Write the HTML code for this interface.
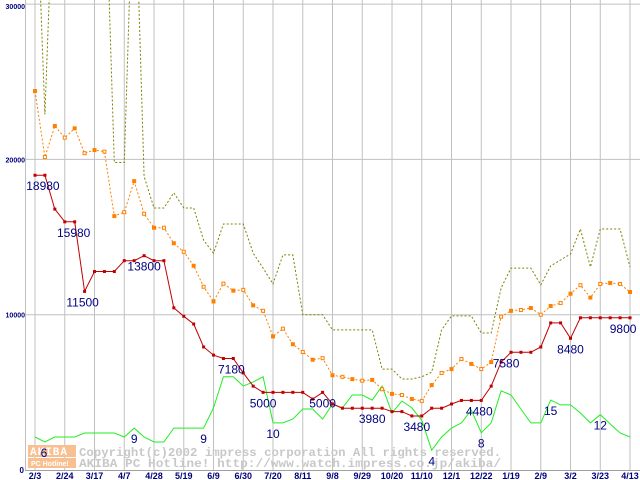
<!DOCTYPE html>
<html><head><meta charset="utf-8"><style>
html,body{margin:0;padding:0;background:#fff;}
svg{display:block;}
</style></head><body>
<svg id="chart" width="640" height="480" viewBox="0 0 640 480" xmlns="http://www.w3.org/2000/svg" font-family="Liberation Sans, sans-serif">
<defs><clipPath id="plotclip"><rect x="25" y="0" width="615" height="471"/></clipPath></defs>
<g id="grid"></g>
<g id="watermark">
 <rect x="28" y="445" width="48" height="12" fill="#f8c090"/>
 <text x="30" y="455" font-family="Liberation Mono, monospace" font-weight="bold" font-size="11" fill="#ffffff" letter-spacing="1">AKIBA</text>
 <rect x="28" y="458" width="48" height="10" fill="#f8c090"/>
 <text x="31" y="466" font-family="Liberation Sans, sans-serif" font-weight="bold" font-size="7" fill="#ffffff">PC Hotline!</text>
 <text x="79" y="456" font-family="Liberation Mono, monospace" font-weight="bold" font-size="12" fill="#c8c8c8" textLength="422" lengthAdjust="spacingAndGlyphs">Copyright(c)2002 impress corporation All rights reserved.</text>
 <text x="79" y="467" font-family="Liberation Mono, monospace" font-weight="bold" font-size="12" fill="#c8c8c8" textLength="422" lengthAdjust="spacingAndGlyphs">AKIBA PC Hotline!  http://www.watch.impress.co.jp/akiba/</text>
</g>
<g id="series" clip-path="url(#plotclip)"></g>
<g id="labels"></g>
<g id="axes"></g>
</svg>
<script>
const xLabels=["2/3","2/24","3/17","4/7","4/28","5/19","6/9","6/30","7/20","8/11","9/8","9/29","10/20","11/10","12/1","12/22","1/19","2/9","3/2","3/23","4/13"];
const yTicks=[0,10000,20000,30000];
const redPrice=[18980,18980,16800,15980,15980,11500,12780,12780,12780,13480,13480,13800,13480,13480,10440,9900,9400,7920,7400,7180,7180,6250,5400,5000,5000,5000,5000,5000,4570,5000,4250,3980,3980,3980,3980,3980,3760,3760,3480,3480,3980,3980,4250,4480,4480,4480,5400,6950,7580,7580,7580,7920,9470,9470,8480,9800,9800,9800,9800,9800,9800];
const orangePrice=[24400,20150,22150,21400,22000,20400,20600,20500,16350,16600,18600,16500,15600,15600,14600,14050,13150,11800,10850,12000,11550,11600,10600,10250,8600,9100,8100,7600,7100,7200,6100,6000,5850,5750,5800,5200,4900,4830,4570,4450,5470,6250,6500,7150,6830,6500,6950,9870,10250,10300,10430,10000,10560,10750,11350,11900,11100,11980,12040,11980,11460];
const olivePrice=[40000,22900,40000,40000,40000,40000,40000,40000,19800,19800,40000,18900,16870,16870,17850,16870,16870,14800,13960,15840,15840,15840,13960,13000,11980,13850,13850,10000,10000,10000,9020,9020,9020,9020,9020,6500,6500,5860,5860,6000,6300,9020,9920,9920,9920,8820,8820,11720,13000,13000,13000,11920,13140,13520,13910,15520,13070,15520,15520,15520,13070];
const greenCount=[2125,1800,2125,2125,2125,2380,2380,2380,2380,2125,2700,2125,1800,1800,2700,2700,2700,2700,4000,6000,6000,5400,5670,6000,3030,3030,3280,3930,3930,3280,4250,4000,4830,4830,4500,5400,3670,4440,4000,3200,1270,2125,2700,3030,3860,2400,3030,5100,4830,3930,3030,3030,4500,4190,4190,3670,3030,3560,2960,2380,2125];
const redLabelIdx=[0.8,3.9,4.8,11,19.8,23,29,34,38.5,44.8,47.5,54,59.3];
const redLabelText=["18980","15980","11500","13800","7180","5000","5000","3980","3480","4480","7580","8480","9800"];
const greenLabelIdx=[0.9,10,17,24,40,45,52,57];
const greenLabelText=["6","9","9","10","4","8","15","12"];

const NS="http://www.w3.org/2000/svg";
const X0=35,DX=9.917,Y0=470,KY=0.01553;
function xs(i){return X0+i*DX;}
function ys(v){return Y0-v*KY;}
function mk(tag,attrs,parent){const e=document.createElementNS(NS,tag);for(const k in attrs)e.setAttribute(k,attrs[k]);parent.appendChild(e);return e;}
const grid=document.getElementById('grid'),series=document.getElementById('series'),labels=document.getElementById('labels'),axes=document.getElementById('axes');

yTicks.forEach(t=>{
 if(t>0){const l=mk('line',{x1:25,x2:640,y1:ys(t),y2:ys(t),stroke:'#c0c0c0','stroke-width':1},grid);
 
 }
 const tx=mk('text',{x:t===0?24:25,y:ys(t)+(t===30000?5:3),'text-anchor':'end','font-size':t===0?8:7,'font-weight':'bold',fill:'#000080'},axes);
 tx.textContent=String(t);
 
 
});
xLabels.forEach((s,k)=>{
 const x=xs(k*3);
 const l=mk('line',{x1:x,x2:x,y1:0,y2:471,stroke:'#c0c0c0','stroke-width':1},grid);
 
 
 const tx=mk('text',{x:x,y:479,'text-anchor':'middle','font-size':9,'font-weight':'bold',fill:'#000080'},axes);
 tx.textContent=s;
 
 
});
const ax=mk('line',{x1:25.5,x2:25.5,y1:0,y2:471,stroke:'#c0c0c0'},axes);


const bx=mk('line',{x1:25,x2:640,y1:470.5,y2:470.5,stroke:'#a0a0a0'},axes);



function pts(arr){return arr.map((v,i)=>xs(i).toFixed(1)+','+ys(v).toFixed(1)).join(' ');}
const gl=mk('polyline',{points:pts(greenCount),fill:'none',stroke:'#22ee22','stroke-width':1},series);


const ol=mk('polyline',{points:pts(olivePrice),fill:'none',stroke:'#808000','stroke-width':1,'stroke-dasharray':'2,2'},series);


const orl=mk('polyline',{points:pts(orangePrice),fill:'none',stroke:'#ff8000','stroke-width':1,'stroke-dasharray':'2,2'},series);


orangePrice.forEach((v,i)=>{
 const r=mk('rect',{x:xs(i)-1.5,y:ys(v)-1.5,width:3,height:3,fill:i%2===0?'#ff8000':'#ffffff',stroke:'#ff8000','stroke-width':1},series);
 
 
});
const rl=mk('polyline',{points:pts(redPrice),fill:'none',stroke:'#c00000','stroke-width':1},series);


redPrice.forEach((v,i)=>{
 const r=mk('rect',{x:xs(i)-1.5,y:ys(v)-1.5,width:3,height:3,fill:'#c00000'},series);
 
 
});
function interp(arr,f){const a=Math.floor(f),b=Math.min(arr.length-1,a+1),t=f-a;return arr[a]*(1-t)+arr[b]*t;}
redLabelIdx.forEach((f,k)=>{
 const tx=mk('text',{x:xs(f),y:ys(interp(redPrice,Math.round(f)))+15,'text-anchor':'middle','font-size':12,fill:'#000080'},labels);
 tx.textContent=redLabelText[k];
 
 
});
greenLabelIdx.forEach((f,k)=>{
 const tx=mk('text',{x:xs(f),y:ys(greenCount[Math.round(f)])+15,'text-anchor':'middle','font-size':12,fill:'#000080'},labels);
 tx.textContent=greenLabelText[k];
 
 
});
</script>
</body></html>
